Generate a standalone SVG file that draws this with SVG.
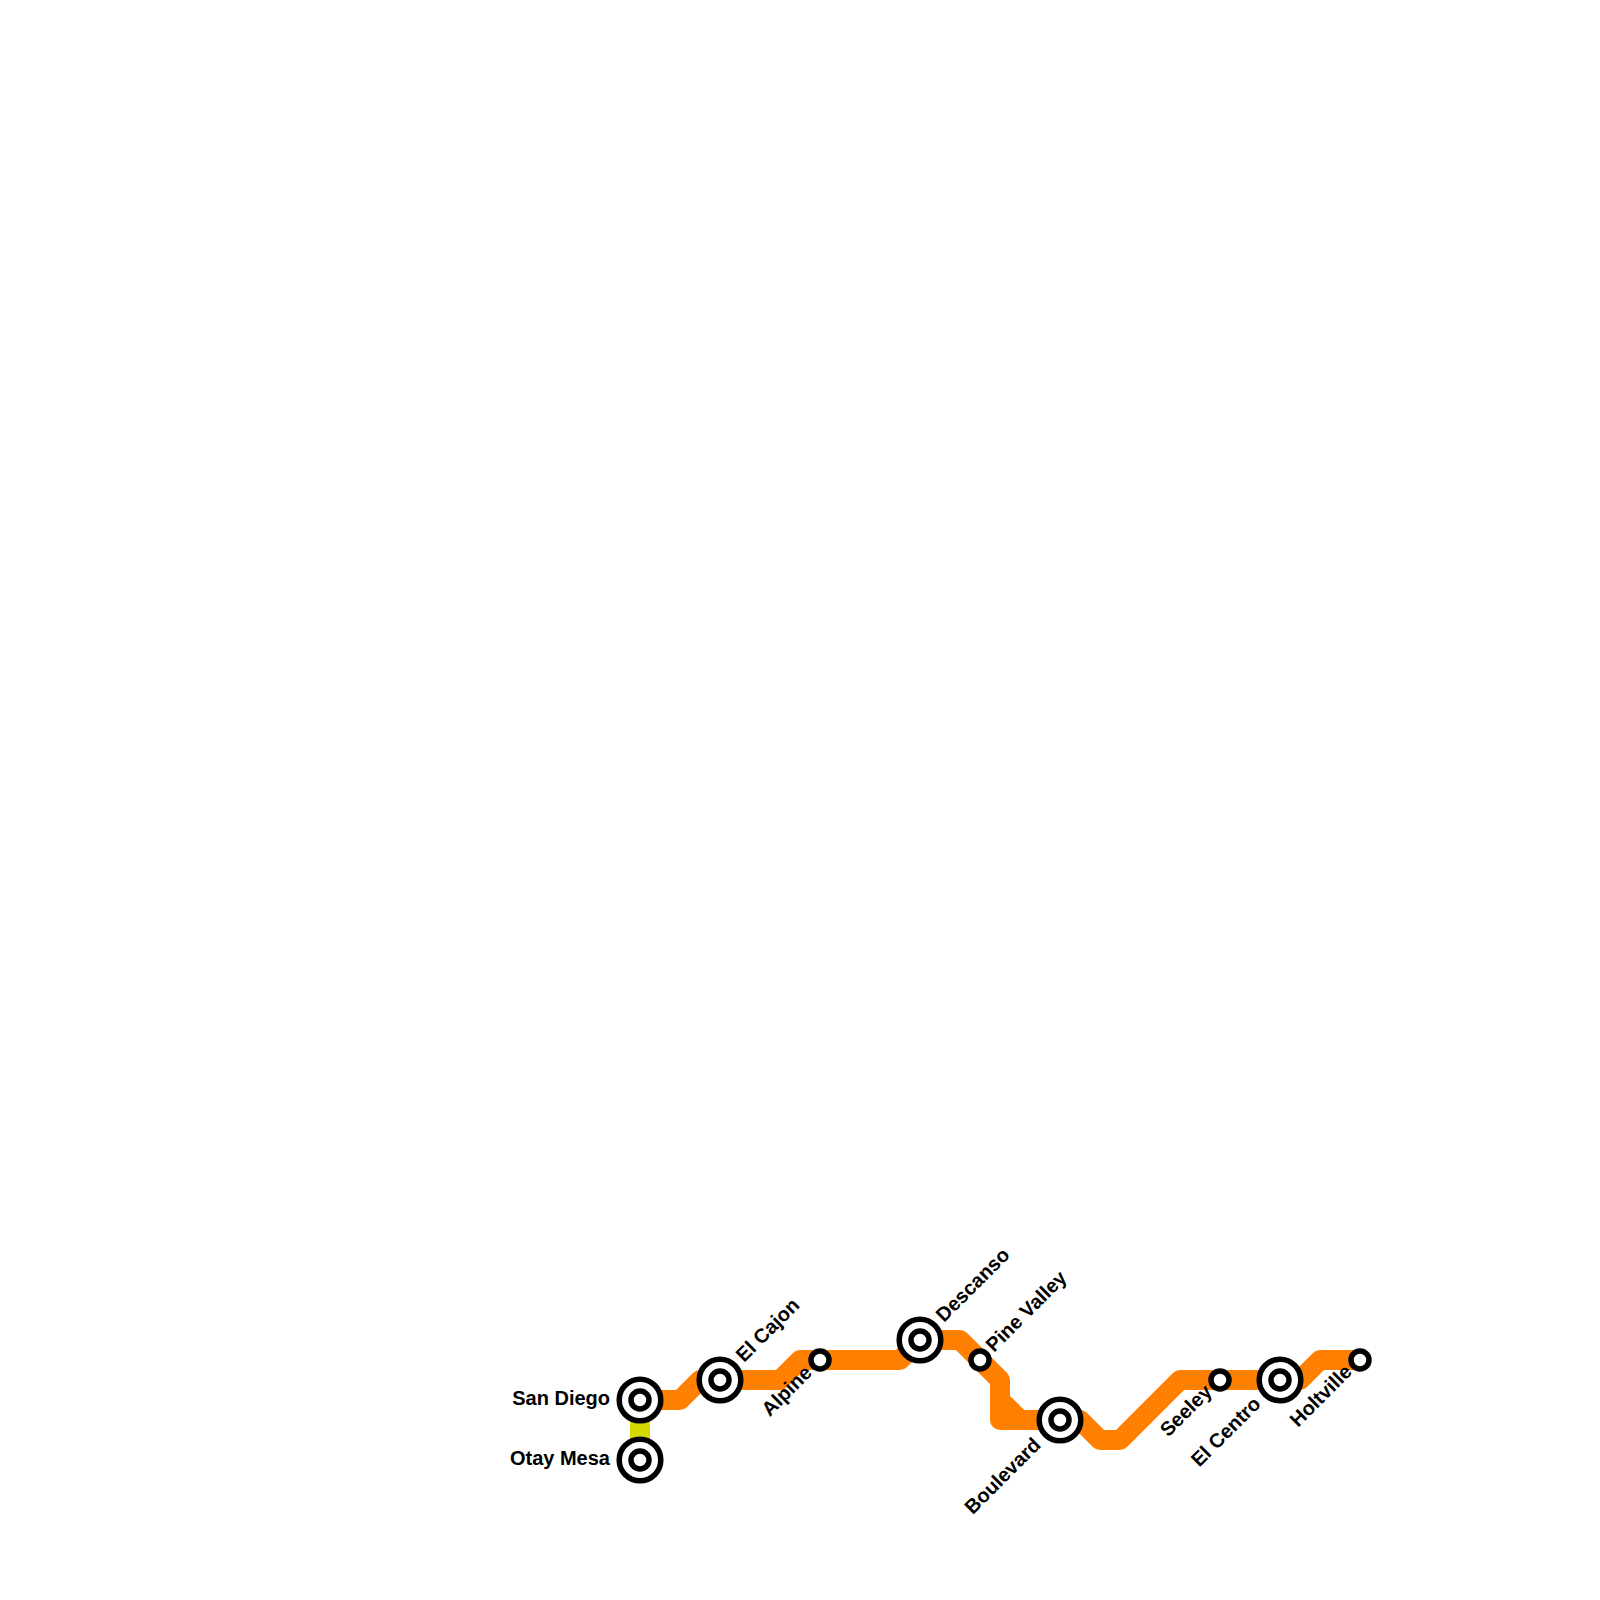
<svg xmlns="http://www.w3.org/2000/svg" width="1600" height="1600" viewBox="0 0 1600 1600">
<style>
.ln{fill:none;stroke-width:20;stroke-linejoin:round;stroke-linecap:butt}
.or{stroke:#ff8000}.ye{stroke:#d4d900}
.r{fill:#fff;stroke:#000;stroke-width:5.5}
.t{font-family:"Liberation Sans",Arial,sans-serif;font-weight:700;font-size:20px;fill:#000}
.e{text-anchor:end}
</style>
<rect width="1600" height="1600" fill="#fff"/>
<g id="connectors">
<path class="ln ye" d="M640 1400V1460"/>
<path class="ln or" d="M640 1400H680L700 1380H780L800 1360H900L920 1340H960L1000 1380V1420H1060"/>
<path class="ln or" d="M1000 1400L1020 1420H1080L1100 1440H1120L1180 1380H1300L1320 1360H1360"/>
</g>
<g id="n-san-diego"><circle class="r" cx="640" cy="1400" r="20.8"/><circle class="r" cx="640" cy="1400" r="9"/><text class="t e" x="610" y="1405">San Diego</text></g>
<g id="n-otay-mesa"><circle class="r" cx="640" cy="1460" r="20.8"/><circle class="r" cx="640" cy="1460" r="9"/><text class="t e" x="610" y="1465">Otay Mesa</text></g>
<g id="n-el-cajon"><circle class="r" cx="720" cy="1380" r="20.8"/><circle class="r" cx="720" cy="1380" r="9"/><text class="t" transform="translate(744,1363) rotate(-45)">El Cajon</text></g>
<g id="n-alpine"><circle class="r" cx="820" cy="1360" r="9"/><text class="t e" transform="translate(813,1374) rotate(-45)">Alpine</text></g>
<g id="n-descanso"><circle class="r" cx="920" cy="1340" r="20.8"/><circle class="r" cx="920" cy="1340" r="9"/><text class="t" transform="translate(944,1323) rotate(-45)">Descanso</text></g>
<g id="n-pine-valley"><circle class="r" cx="980" cy="1360" r="9"/><text class="t" transform="translate(994,1353) rotate(-45)">Pine Valley</text></g>
<g id="n-boulevard"><circle class="r" cx="1060" cy="1420" r="20.8"/><circle class="r" cx="1060" cy="1420" r="9"/><text class="t e" transform="translate(1042,1446) rotate(-45)">Boulevard</text></g>
<g id="n-seeley"><circle class="r" cx="1220" cy="1380" r="9"/><text class="t e" transform="translate(1213,1393) rotate(-45)">Seeley</text></g>
<g id="n-el-centro"><circle class="r" cx="1280" cy="1380" r="20.8"/><circle class="r" cx="1280" cy="1380" r="9"/><text class="t e" transform="translate(1262,1405) rotate(-45)">El Centro</text></g>
<g id="n-holtville"><circle class="r" cx="1360" cy="1360" r="9"/><text class="t e" transform="translate(1353,1373) rotate(-45)">Holtville</text></g>
</svg>
